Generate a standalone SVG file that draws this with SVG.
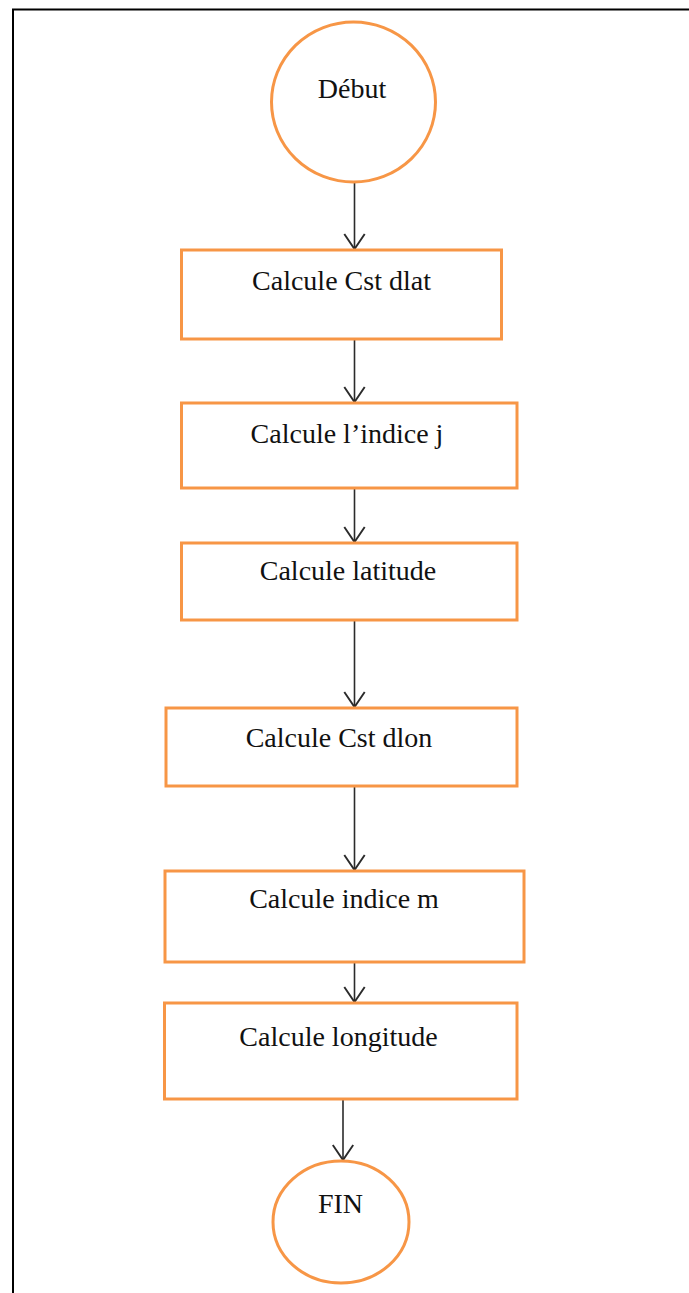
<svg xmlns="http://www.w3.org/2000/svg" width="689" height="1293" viewBox="0 0 689 1293">
  <style>
    .shape { fill: #ffffff; stroke: #F79646; stroke-width: 3; }
    .label { font-family: "Liberation Serif", "Times New Roman", serif; font-size: 28px; fill: #111111; text-anchor: middle; }
    .flow { stroke: #2b2b2b; stroke-width: 1.6; fill: none; marker-end: url(#open-arrow); }
  </style>
  <defs>
    <marker id="open-arrow" markerUnits="userSpaceOnUse" markerWidth="20" markerHeight="24" viewBox="-14 -10 16 20" refX="0" refY="0" orient="auto" overflow="visible">
      <path d="M-12.5,-8.5 L0,0 L-12.5,8.5" fill="none" stroke="#2b2b2b" stroke-width="1.6"/>
    </marker>
  </defs>

  <rect width="689" height="1293" fill="#ffffff"/>

  <!-- frame -->
  <path d="M13,1293 L13,9.5 L689,9.5" fill="none" stroke="#000000" stroke-width="2"/>

  <g id="connectors">
    <line class="flow" x1="354.5" y1="182" x2="354.5" y2="249"/>
    <line class="flow" x1="354.5" y1="340" x2="354.5" y2="402"/>
    <line class="flow" x1="354.5" y1="488" x2="354.5" y2="542"/>
    <line class="flow" x1="354.5" y1="620" x2="354.5" y2="707"/>
    <line class="flow" x1="354.5" y1="786" x2="354.5" y2="870"/>
    <line class="flow" x1="354.5" y1="962" x2="354.5" y2="1002"/>
    <line class="flow" x1="343" y1="1099" x2="343" y2="1160"/>
  </g>

  <g id="debut">
    <ellipse class="shape" cx="353.5" cy="102" rx="82" ry="80"/>
    <text class="label" x="352" y="98">Début</text>
  </g>

  <g id="cst-dlat">
    <rect class="shape" x="181.5" y="250" width="320" height="89"/>
    <text class="label" x="341.5" y="290">Calcule Cst dlat</text>
  </g>

  <g id="indice-j">
    <rect class="shape" x="181.5" y="403" width="335.5" height="85"/>
    <text class="label" x="347" y="443">Calcule l’indice j</text>
  </g>

  <g id="latitude">
    <rect class="shape" x="181.5" y="543" width="335.5" height="77"/>
    <text class="label" x="348" y="580">Calcule latitude</text>
  </g>

  <g id="cst-dlon">
    <rect class="shape" x="166" y="708" width="351" height="78"/>
    <text class="label" x="339" y="747">Calcule Cst dlon</text>
  </g>

  <g id="indice-m">
    <rect class="shape" x="165" y="871" width="359" height="91"/>
    <text class="label" x="344" y="908">Calcule indice m</text>
  </g>

  <g id="longitude">
    <rect class="shape" x="164.5" y="1003" width="352.5" height="96"/>
    <text class="label" x="338.5" y="1046">Calcule longitude</text>
  </g>

  <g id="fin">
    <ellipse class="shape" cx="341" cy="1222" rx="68" ry="61"/>
    <text class="label" x="340.5" y="1213">FIN</text>
  </g>
</svg>
